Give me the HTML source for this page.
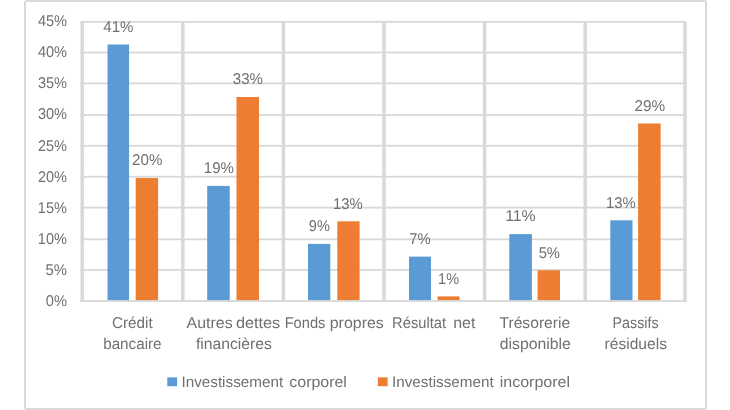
<!DOCTYPE html>
<html lang="fr"><head><meta charset="utf-8"><title>Graphique</title>
<style>html,body{margin:0;padding:0;background:#fff}body{width:730px;height:410px;overflow:hidden}svg{display:block;filter:blur(0.45px)}text{text-rendering:geometricPrecision;font-family:"Liberation Sans",sans-serif;fill:#707070}</style></head><body>
<svg width="730" height="410" viewBox="0 0 730 410">
<rect x="0" y="0" width="730" height="410" fill="#fff"/>
<rect x="25" y="1" width="681" height="408" rx="1.5" fill="#fff" stroke="#d9d9d9" stroke-width="2"/>
<rect x="80.45" y="20.93" width="605.40" height="1.85" fill="#d9d9d9"/>
<rect x="80.45" y="51.60" width="606.30" height="1.85" fill="#d9d9d9"/>
<rect x="80.45" y="82.46" width="606.30" height="1.85" fill="#d9d9d9"/>
<rect x="80.45" y="114.12" width="606.30" height="1.85" fill="#d9d9d9"/>
<rect x="80.45" y="144.88" width="606.30" height="1.85" fill="#d9d9d9"/>
<rect x="80.45" y="175.83" width="606.30" height="1.85" fill="#d9d9d9"/>
<rect x="80.45" y="206.69" width="606.30" height="1.85" fill="#d9d9d9"/>
<rect x="80.45" y="238.40" width="606.30" height="1.85" fill="#d9d9d9"/>
<rect x="80.45" y="269.01" width="606.30" height="1.85" fill="#d9d9d9"/>
<rect x="80.45" y="300.07" width="606.30" height="1.85" fill="#d9d9d9"/>
<rect x="80.45" y="21.23" width="3.50" height="280.70" fill="#d9d9d9"/>
<rect x="181.05" y="21.23" width="3.50" height="280.70" fill="#d9d9d9"/>
<rect x="281.65" y="21.23" width="3.50" height="280.70" fill="#d9d9d9"/>
<rect x="382.25" y="21.23" width="3.50" height="280.70" fill="#d9d9d9"/>
<rect x="482.85" y="21.23" width="3.50" height="280.70" fill="#d9d9d9"/>
<rect x="583.45" y="21.23" width="3.50" height="280.70" fill="#d9d9d9"/>
<rect x="683.25" y="21.82" width="3.50" height="280.10" fill="#d9d9d9"/>
<rect x="107.50" y="44.50" width="21.55" height="255.60" fill="#5b9bd5"/>
<rect x="135.70" y="178.05" width="22.40" height="122.05" fill="#ed7d31"/>
<rect x="207.20" y="185.90" width="22.55" height="114.20" fill="#5b9bd5"/>
<rect x="236.50" y="97.00" width="22.50" height="203.10" fill="#ed7d31"/>
<rect x="308.00" y="243.90" width="22.30" height="56.20" fill="#5b9bd5"/>
<rect x="337.30" y="221.30" width="22.30" height="78.80" fill="#ed7d31"/>
<rect x="409.00" y="256.60" width="22.00" height="43.50" fill="#5b9bd5"/>
<rect x="437.60" y="296.40" width="21.90" height="3.70" fill="#ed7d31"/>
<rect x="509.30" y="234.10" width="22.60" height="66.00" fill="#5b9bd5"/>
<rect x="537.60" y="270.30" width="22.40" height="29.80" fill="#ed7d31"/>
<rect x="610.30" y="220.30" width="22.20" height="79.80" fill="#5b9bd5"/>
<rect x="638.10" y="123.50" width="22.50" height="176.60" fill="#ed7d31"/>
<text y="328.00" font-size="15.6"><tspan x="111.96" textLength="40.72" lengthAdjust="spacingAndGlyphs">Crédit</tspan></text>
<text y="349.10" font-size="15.6"><tspan x="103.18" textLength="58.39" lengthAdjust="spacingAndGlyphs">bancaire</tspan></text>
<text y="328.00" font-size="15.6"><tspan x="186.61" textLength="46.03" lengthAdjust="spacingAndGlyphs">Autres</tspan> <tspan x="235.92" textLength="44.21" lengthAdjust="spacingAndGlyphs">dettes</tspan></text>
<text y="349.10" font-size="15.6"><tspan x="195.90" textLength="76.05" lengthAdjust="spacingAndGlyphs">financières</tspan></text>
<text y="328.00" font-size="15.6"><tspan x="284.66" textLength="40.80" lengthAdjust="spacingAndGlyphs">Fonds</tspan> <tspan x="329.71" textLength="54.11" lengthAdjust="spacingAndGlyphs">propres</tspan></text>
<text y="328.00" font-size="15.6"><tspan x="392.10" textLength="54.01" lengthAdjust="spacingAndGlyphs">Résultat</tspan> <tspan x="453.15" textLength="22.19" lengthAdjust="spacingAndGlyphs">net</tspan></text>
<text y="328.00" font-size="15.6"><tspan x="499.46" textLength="70.77" lengthAdjust="spacingAndGlyphs">Trésorerie</tspan></text>
<text y="349.10" font-size="15.6"><tspan x="499.67" textLength="71.26" lengthAdjust="spacingAndGlyphs">disponible</tspan></text>
<text y="328.00" font-size="15.6"><tspan x="612.61" textLength="45.96" lengthAdjust="spacingAndGlyphs">Passifs</tspan></text>
<text y="349.10" font-size="15.6"><tspan x="604.50" textLength="62.50" lengthAdjust="spacingAndGlyphs">résiduels</tspan></text>
<text y="386.50" font-size="15.2"><tspan x="181.43" textLength="101.75" lengthAdjust="spacingAndGlyphs">Investissement</tspan> <tspan x="289.33" textLength="57.50" lengthAdjust="spacingAndGlyphs">corporel</tspan></text>
<text y="386.50" font-size="15.2"><tspan x="392.04" textLength="101.62" lengthAdjust="spacingAndGlyphs">Investissement</tspan> <tspan x="499.74" textLength="70.28" lengthAdjust="spacingAndGlyphs">incorporel</tspan></text>
<text y="31.75" font-size="15.6"><tspan x="103.29" textLength="30.16" lengthAdjust="spacingAndGlyphs">41%</tspan></text>
<text y="165.30" font-size="15.6"><tspan x="132.08" textLength="30.36" lengthAdjust="spacingAndGlyphs">20%</tspan></text>
<text y="173.15" font-size="15.6"><tspan x="203.78" textLength="30.10" lengthAdjust="spacingAndGlyphs">19%</tspan></text>
<text y="84.25" font-size="15.6"><tspan x="232.84" textLength="30.19" lengthAdjust="spacingAndGlyphs">33%</tspan></text>
<text y="231.15" font-size="15.6"><tspan x="308.86" textLength="21.03" lengthAdjust="spacingAndGlyphs">9%</tspan></text>
<text y="208.55" font-size="15.6"><tspan x="332.91" textLength="29.75" lengthAdjust="spacingAndGlyphs">13%</tspan></text>
<text y="243.85" font-size="15.6"><tspan x="409.36" textLength="21.44" lengthAdjust="spacingAndGlyphs">7%</tspan></text>
<text y="283.65" font-size="15.6"><tspan x="438.08" textLength="21.01" lengthAdjust="spacingAndGlyphs">1%</tspan></text>
<text y="221.35" font-size="15.6"><tspan x="505.15" textLength="30.55" lengthAdjust="spacingAndGlyphs">11%</tspan></text>
<text y="257.55" font-size="15.6"><tspan x="538.65" textLength="21.33" lengthAdjust="spacingAndGlyphs">5%</tspan></text>
<text y="207.55" font-size="15.6"><tspan x="605.90" textLength="29.77" lengthAdjust="spacingAndGlyphs">13%</tspan></text>
<text y="110.75" font-size="15.6"><tspan x="634.43" textLength="30.67" lengthAdjust="spacingAndGlyphs">29%</tspan></text>
<text y="26.26" font-size="15.6"><tspan x="37.90" textLength="29.17" lengthAdjust="spacingAndGlyphs">45%</tspan></text>
<text y="57.32" font-size="15.6"><tspan x="37.90" textLength="29.17" lengthAdjust="spacingAndGlyphs">40%</tspan></text>
<text y="88.38" font-size="15.6"><tspan x="37.93" textLength="29.11" lengthAdjust="spacingAndGlyphs">35%</tspan></text>
<text y="119.44" font-size="15.6"><tspan x="37.93" textLength="29.11" lengthAdjust="spacingAndGlyphs">30%</tspan></text>
<text y="150.50" font-size="15.6"><tspan x="37.92" textLength="29.16" lengthAdjust="spacingAndGlyphs">25%</tspan></text>
<text y="181.56" font-size="15.6"><tspan x="37.92" textLength="29.16" lengthAdjust="spacingAndGlyphs">20%</tspan></text>
<text y="212.62" font-size="15.6"><tspan x="37.80" textLength="29.12" lengthAdjust="spacingAndGlyphs">15%</tspan></text>
<text y="243.68" font-size="15.6"><tspan x="37.80" textLength="29.12" lengthAdjust="spacingAndGlyphs">10%</tspan></text>
<text y="274.74" font-size="15.6"><tspan x="45.42" textLength="21.51" lengthAdjust="spacingAndGlyphs">5%</tspan></text>
<text y="305.80" font-size="15.6"><tspan x="45.84" textLength="21.12" lengthAdjust="spacingAndGlyphs">0%</tspan></text>
<rect x="167.3" y="377.35" width="9.8" height="8.85" fill="#5b9bd5"/>
<rect x="377.85" y="377.35" width="9.8" height="8.85" fill="#ed7d31"/>
</svg></body></html>
